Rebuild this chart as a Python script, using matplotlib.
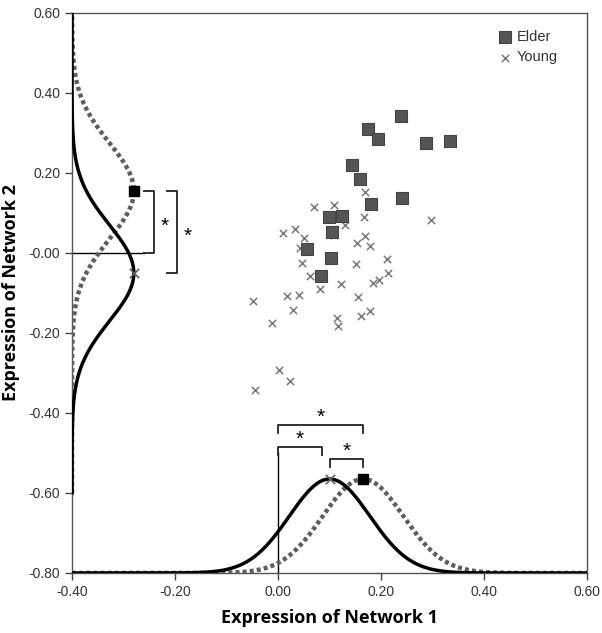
import numpy as np
import matplotlib.pyplot as plt

plt.rcParams['font.family'] = ['Liberation Sans', 'DejaVu Sans']

# scatter data
elder_x = [0.239, 0.174, 0.194, 0.287, 0.334, 0.143, 0.159, 0.180, 0.241,
           0.099, 0.125, 0.104, 0.056, 0.103, 0.083]
elder_y = [0.343, 0.309, 0.285, 0.274, 0.281, 0.220, 0.184, 0.123, 0.137,
           0.090, 0.092, 0.052, 0.010, -0.013, -0.058]

young_x = [0.169, 0.070, 0.109, 0.167, 0.297, 0.010, 0.033, 0.051, 0.129,
           0.108, 0.169, 0.153, 0.179, 0.043, 0.046, 0.211, 0.151, 0.061,
           0.214, 0.185, 0.196, 0.122, 0.082, -0.049, 0.017, 0.041, 0.155,
           0.029, -0.011, 0.114, 0.117, 0.161, 0.179, 0.002, 0.023, -0.045]
young_y = [0.152, 0.116, 0.120, 0.091, 0.083, 0.049, 0.059, 0.038, 0.070,
           0.045, 0.043, 0.026, 0.018, 0.012, -0.024, -0.015, -0.028, -0.058,
           -0.049, -0.074, -0.068, -0.078, -0.091, -0.120, -0.108, -0.105, -0.111,
           -0.143, -0.176, -0.163, -0.183, -0.158, -0.144, -0.293, -0.320, -0.343]

# group distributions (mean, sd) for each network
net1_young = (0.100, 0.078)
net1_elder = (0.165, 0.078)
net2_young = (-0.050, 0.120)
net2_elder = (0.155, 0.120)

fig = plt.figure(figsize=(6.02, 6.33), dpi=100)
ax = fig.add_axes([0.1196, 0.0948, 0.8558, 0.8847])

dots = dict(color='#5e5e5e', lw=3.2, ls=(0, (0.9, 0.7)), zorder=3)

# bottom curves (network 1)
xs = np.linspace(-0.40, 0.60, 400)
base_b, h_b = -0.80, 0.235
yy = base_b + h_b * np.exp(-0.5 * ((xs - net1_elder[0]) / net1_elder[1]) ** 2)
ax.plot(xs, yy, **dots)
yy = base_b + h_b * np.exp(-0.5 * ((xs - net1_young[0]) / net1_young[1]) ** 2)
ax.plot(xs, yy, color='black', lw=2.5, zorder=4)
ax.scatter([net1_young[0]], [base_b + h_b], marker='x', s=45, color='#606060', lw=1.2, zorder=5)
ax.scatter([net1_elder[0]], [base_b + h_b], marker='s', s=55, color='black', zorder=5)

# left curves (network 2)
ys = np.linspace(-0.60, 0.60, 400)
base_l, h_l = -0.40, 0.12
xx = base_l + h_l * np.exp(-0.5 * ((ys - net2_elder[0]) / net2_elder[1]) ** 2)
ax.plot(xx, ys, **dots)
xx = base_l + h_l * np.exp(-0.5 * ((ys - net2_young[0]) / net2_young[1]) ** 2)
ax.plot(xx, ys, color='black', lw=2.5, zorder=4)
ax.scatter([base_l + h_l], [net2_young[0]], marker='x', s=45, color='#606060', lw=1.2, zorder=5)
ax.scatter([base_l + h_l], [net2_elder[0]], marker='s', s=55, color='black', zorder=5)

# reference lines
ax.plot([-0.40, -0.26], [0.0, 0.0], color='black', lw=1)
ax.plot([0.0, 0.0], [-0.80, -0.50], color='black', lw=1)

# significance brackets
def hbracket(x0, x1, y, leg=0.02):
    ax.plot([x0, x0, x1, x1], [y - leg, y, y, y - leg], color='#222222', lw=1.3,
            solid_joinstyle='round')
    ax.text((x0 + x1) / 2, y - 0.004, '*', ha='center', va='bottom', fontsize=15)

def vbracket(y0, y1, x, leg=0.02, star_dx=0.02):
    ax.plot([x - leg, x, x, x - leg], [y0, y0, y1, y1], color='#222222', lw=1.3,
            solid_joinstyle='round')
    ax.text(x + star_dx, (y0 + y1) / 2 - 0.012, '*', ha='center', va='center', fontsize=15)

hbracket(0.0, 0.165, -0.43)
hbracket(0.0, 0.085, -0.485)
hbracket(0.10, 0.165, -0.515)
vbracket(0.155, 0.0, -0.24)
vbracket(0.155, -0.05, -0.196)

# scatter
ax.scatter(elder_x, elder_y, marker='s', s=85, color='#555555', edgecolor='#444444',
           lw=0.8, label='Elder', zorder=6)
ax.scatter(young_x, young_y, marker='x', s=28, color='#7a7a7a', lw=1.1,
           label='Young', zorder=5)

ax.set_xlim(-0.40, 0.60)
ax.set_ylim(-0.80, 0.60)
ax.set_xticks(np.arange(-0.40, 0.61, 0.20))
ax.set_yticks(np.arange(-0.80, 0.61, 0.20))
ax.xaxis.set_major_formatter(plt.FormatStrFormatter('%.2f'))
ax.yaxis.set_major_formatter(plt.FormatStrFormatter('%.2f'))
ax.tick_params(direction='out', length=5, width=1, labelsize=10, color='#444444',
               labelcolor='#333333')
for s in ax.spines.values():
    s.set_color('#555555')
    s.set_linewidth(1)

ax.set_xlabel('Expression of Network 1', fontsize=13, fontweight='bold',
              family=['Open Sans', 'DejaVu Sans'], labelpad=7)
ax.set_ylabel('Expression of Network 2', fontsize=13, fontweight='bold',
              family=['Open Sans', 'DejaVu Sans'], labelpad=6)

leg = ax.legend(loc='upper left', bbox_to_anchor=(0.826, 0.97), frameon=False,
                fontsize=10.5, handletextpad=0.3, borderaxespad=0, borderpad=0,
                labelspacing=0.45, handlelength=1.0, markerscale=1.0)
for t in leg.get_texts():
    t.set_color('#333333')

fig.savefig('out.png', dpi=100)
